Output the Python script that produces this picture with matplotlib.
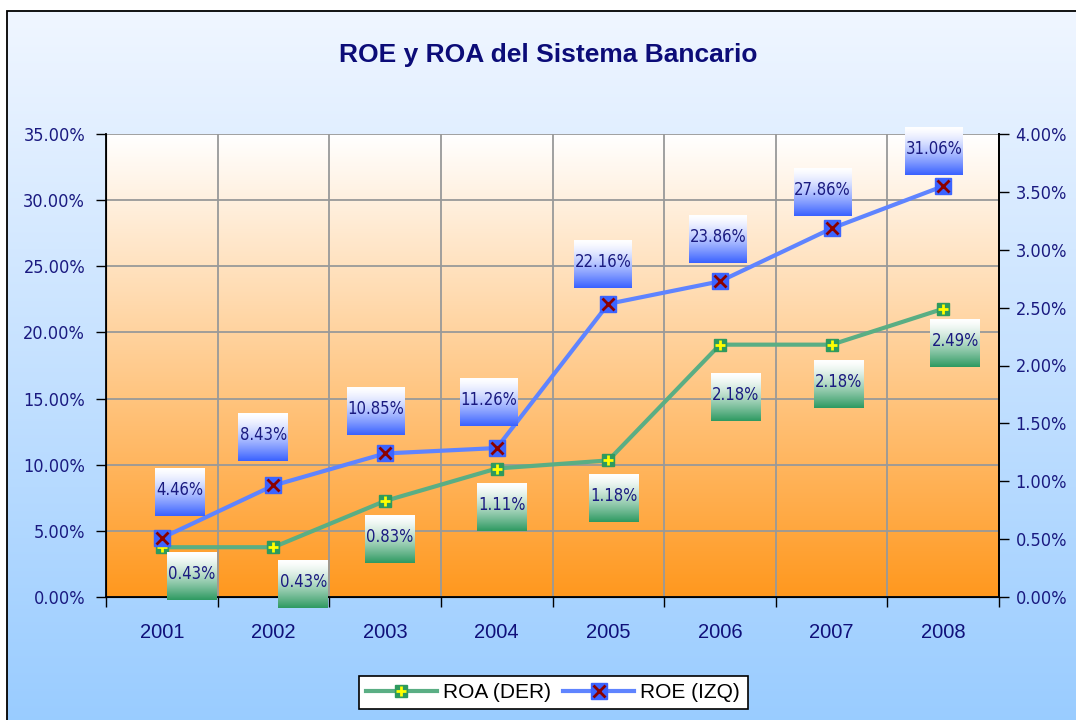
import os
import numpy as np
import matplotlib
matplotlib.use('Agg')
import matplotlib.pyplot as plt
from matplotlib import font_manager as fm
from matplotlib.lines import Line2D
from matplotlib.patches import Rectangle
from matplotlib.legend_handler import HandlerTuple

years = ['2001', '2002', '2003', '2004', '2005', '2006', '2007', '2008']
roe = [4.46, 8.43, 10.85, 11.26, 22.16, 23.86, 27.86, 31.06]   # % (eje izq)
roa = [0.43, 0.43, 0.83, 1.11, 1.18, 2.18, 2.18, 2.49]         # % (eje der)

left_ticks = [0, 5, 10, 15, 20, 25, 30, 35]
right_ticks = [0, 0.5, 1.0, 1.5, 2.0, 2.5, 3.0, 3.5, 4.0]

# label box offsets in pixels (dx, dy) from each point, as placed in the original
roe_off = [(18, 46), (-10, 48), (-9, 42), (-8, 46), (-5, 40), (-2, 42), (-9, 36), (-9, 35)]
roa_off = [(30, -29), (30, -37), (5, -38), (5, -38), (6, -38), (16, -52), (7, -39), (12, -34)]

W, H = 1076, 720
plt.rcParams['font.family'] = ['Liberation Sans', 'DejaVu Sans']


# the original uses a narrow face for the numbers, look for one
def narrow_font():
    bad = ('bold', 'italic', 'oblique', 'light', 'semi', 'extra', 'medium', 'black', 'thin', 'ultra')
    files = [f.fname for f in fm.fontManager.ttflist]
    for key in ('liberationsansnarrow-regular', 'arialn', 'dejavusanscondensed.',
                'robotocondensed-regular', 'notosans-condensed.', 'opensans-condensed', 'condensed', 'narrow'):
        for fn in files:
            base = os.path.basename(fn).lower()
            if key in base and not any(w in base.replace(key, '') for w in bad):
                return fm.FontProperties(fname=fn)
    for fam in ('Roboto', 'Liberation Sans'):
        try:
            fm.findfont(fam, fallback_to_default=False)
            return fm.FontProperties(family=fam)
        except Exception:
            pass
    return fm.FontProperties(family='DejaVu Sans')


nf = narrow_font()


def nfp(size):
    p = nf.copy()
    p.set_size(size)
    return p


navy = '#1a1a80'
blue_line = '#5f84ff'
green_line = '#5aae84'

fig = plt.figure(figsize=(W / 100, H / 100), dpi=100)

# outer background gradient + border
bg = fig.add_axes([0, 0, 1, 1], zorder=-5)
bg.axis('off')
t = np.linspace(0, 1, 256)[:, None]
top_c = np.array([240, 246, 255]) / 255
bot_c = np.array([153, 204, 255]) / 255
outer = top_c + (bot_c - top_c) * t[..., None]
bg.imshow(outer, extent=[7, W + 5, -5, H - 11], aspect='auto', origin='upper')
bg.add_patch(Rectangle((7, -5), W, H - 11 + 5, fill=False, ec='black', lw=1.3))
bg.set_xlim(0, W)
bg.set_ylim(0, H)

l, r, b, tp = 106, 999, 123, 586
rect = [l / W, b / H, (r - l) / W, (tp - b) / H]

ax = fig.add_axes(rect, zorder=1)
x = np.arange(len(years)) + 0.5
g = np.linspace(0, 1, 256)[:, None]
pa_top = np.array([255, 255, 255]) / 255
pa_bot = np.array([255, 152, 30]) / 255
plot_grad = pa_top + (pa_bot - pa_top) * g[..., None]
ax.imshow(plot_grad, extent=[0, len(years), 0, 35], aspect='auto', origin='upper', zorder=0)
ax.set_xlim(0, len(years))
ax.set_ylim(0, 35)
ax.set_yticks(left_ticks)
ax.set_yticklabels([f'{v:.2f}%' for v in left_ticks], fontproperties=nfp(13), color=navy)
ax.set_xticks(range(len(years) + 1))
ax.set_xticklabels([])
ax.set_xticks(x, minor=True)
ax.set_xticklabels(years, minor=True, fontsize=14.5, color='#10107a')
ax.tick_params(axis='x', which='minor', length=0, pad=19)
ax.tick_params(axis='x', which='major', length=7, direction='out', width=1)
ax.tick_params(axis='y', length=7, direction='out', width=1, pad=8)
ax.grid(True, which='major', color='#999999', lw=1.3)
ax.spines['top'].set_visible(False)
for s in ['left', 'bottom', 'right']:
    ax.spines[s].set_linewidth(1.3)

axr = ax.twinx()
axr.set_zorder(2)
axr.set_ylim(0, 4)
axr.set_yticks(right_ticks)
axr.set_yticklabels([f'{v:.2f}%' for v in right_ticks], fontproperties=nfp(13), color=navy)
axr.tick_params(axis='y', length=7, direction='out', width=1, pad=5)
axr.spines['top'].set_visible(False)
axr.spines['right'].set_linewidth(1.3)
axr.patch.set_visible(False)
axr.plot(x, roa, color=green_line, lw=3.0, marker='s', ms=8.5, mfc='#2e9a5e', mec='#2e9a5e')
axr.plot(x, roa, ls='none', marker='+', ms=7, mew=2, color='#ffff00')

axe = ax.twinx()
axe.set_zorder(3)
axe.set_ylim(0, 35)
axe.axis('off')
axe.plot(x, roe, color=blue_line, lw=3.0, marker='s', ms=11.5, mfc='#3c64ff', mec='#3c64ff')
axe.plot(x, roe, ls='none', marker='x', ms=9, mew=2, color='#8b0000')

# data label boxes with gradient fill
ov = fig.add_axes([0, 0, 1, 1], zorder=10)
ov.axis('off')
bt = np.linspace(0, 1, 64)[:, None] ** 1.4
white = np.array([1.0, 1.0, 1.0])
blue_box = white + (np.array([58, 98, 255]) / 255 - white) * bt[..., None]
green_box = white + (np.array([47, 154, 98]) / 255 - white) * bt[..., None]


def label(axis, vals, offs, grad):
    for xi, v, (dx, dy) in zip(x, vals, offs):
        px, py = axis.transData.transform((xi, v))
        cx, cy = px + dx, py + dy
        txt = f'{v:.2f}%'
        w = 50 if len(txt) <= 5 else 58
        h = 48
        ov.imshow(grad, extent=[cx - w / 2, cx + w / 2, cy - h / 2, cy + h / 2],
                  aspect='auto', origin='upper')
        ov.text(cx, cy + 2, txt, ha='center', va='center', fontproperties=nfp(12),
                color=navy)


label(axe, roe, roe_off, blue_box)
label(axr, roa, roa_off, green_box)
ov.set_xlim(0, W)
ov.set_ylim(0, H)

fig.text(548 / W, 1 - 55 / H, 'ROE y ROA del Sistema Bancario', ha='center', va='center',
         fontsize=19, fontweight='bold', color='#0c0c78')

h_roa = (Line2D([], [], color=green_line, lw=3.0, marker='s', ms=8.5, mfc='#2e9a5e', mec='#2e9a5e'),
         Line2D([], [], ls='none', marker='+', ms=7, mew=2, color='#ffff00'))
h_roe = (Line2D([], [], color=blue_line, lw=3.0, marker='s', ms=11.5, mfc='#3c64ff', mec='#3c64ff'),
         Line2D([], [], ls='none', marker='x', ms=9, mew=2, color='#8b0000'))
leg = fig.legend([h_roa, h_roe], ['ROA (DER)', 'ROE (IZQ)'], loc='lower center',
                 bbox_to_anchor=(553 / W, 0.5 / H), ncol=2, fontsize=15, frameon=True,
                 fancybox=False, edgecolor='black', facecolor='white', framealpha=1,
                 handlelength=3.4, handletextpad=0.3, columnspacing=0.6,
                 borderpad=0.35, handler_map={tuple: HandlerTuple(ndivide=1)})
leg.get_frame().set_linewidth(1.2)
leg.set_zorder(20)

fig.savefig('out.png', dpi=100)
